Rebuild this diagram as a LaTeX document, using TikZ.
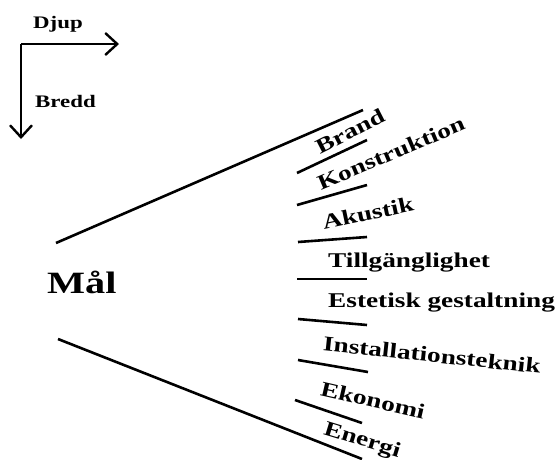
\documentclass[tikz,border=0pt]{standalone}
\usepackage{fontspec}
\setmainfont{Liberation Serif}[FakeStretch=1.3]
\usetikzlibrary{arrows.meta}
\tikzset{
  ln/.style={line width=2.6pt},
  axis/.style={line width=2.6pt,-{Straight Barb[length=12pt,width=22pt,line width=2.4pt]}},
  lbl/.style={font=\fontsize{21}{24}\selectfont\bfseries, inner sep=0pt},
  axlbl/.style={font=\fontsize{17.6}{20}\selectfont\bfseries, inner sep=0pt},
  big/.style={font=\fontsize{31}{34}\selectfont\bfseries, inner sep=0pt}
}
\begin{document}
\begin{tikzpicture}[x=1pt,y=-1pt]
\useasboundingbox (0,0) rectangle (555,459);
% axes
\coordinate (o) at (21,44);
\coordinate (dx) at (119,44);
\coordinate (by) at (21,139);
\draw[axis] (o) -- (dx);
\draw[axis] (o) -- (by);
\node[axlbl, anchor=base west] (djup) at (33,28) {Djup};
\node[axlbl, anchor=base west] (bredd) at (35,107) {Bredd};
% main
\node[big, anchor=base west] (mal) at (47,293) {Mål};
\coordinate (u0) at (56,243);
\coordinate (u1) at (363,110);
\coordinate (l0) at (58,339);
\coordinate (l1) at (362,459);
\draw[ln] (u0) -- (u1);
\draw[ln] (l0) -- (l1);
% separators
\coordinate (a1) at (297,173); \coordinate (b1) at (367,140);
\coordinate (a2) at (297,205); \coordinate (b2) at (367,185);
\coordinate (a3) at (298,242); \coordinate (b3) at (367,237);
\coordinate (a4) at (297,279); \coordinate (b4) at (367,279);
\coordinate (a5) at (298,319); \coordinate (b5) at (367,325);
\coordinate (a6) at (298,360); \coordinate (b6) at (368,372);
\coordinate (a7) at (295,400); \coordinate (b7) at (362,423);
\foreach \i in {1,...,7} {\draw[ln] (a\i) -- (b\i);}
% labels
\node[lbl, rotate=27] (brand) at (350,131) {Brand};
\node[lbl, rotate=23] (konst) at (391,153) {Konstruktion};
\node[lbl, rotate=12] (akustik) at (368,213) {Akustik};
\node[lbl, anchor=base west] (till) at (328,267) {Tillgänglighet};
\node[lbl, anchor=base west] (estet) at (328,307) {Estetisk gestaltning};
\node[lbl, rotate=-6] (install) at (432,355) {Installationsteknik};
\node[lbl, rotate=-13] (ekonomi) at (373,400) {Ekonomi};
\node[lbl, rotate=-17] (energi) at (362,441) {Energi};
\end{tikzpicture}
\end{document}
